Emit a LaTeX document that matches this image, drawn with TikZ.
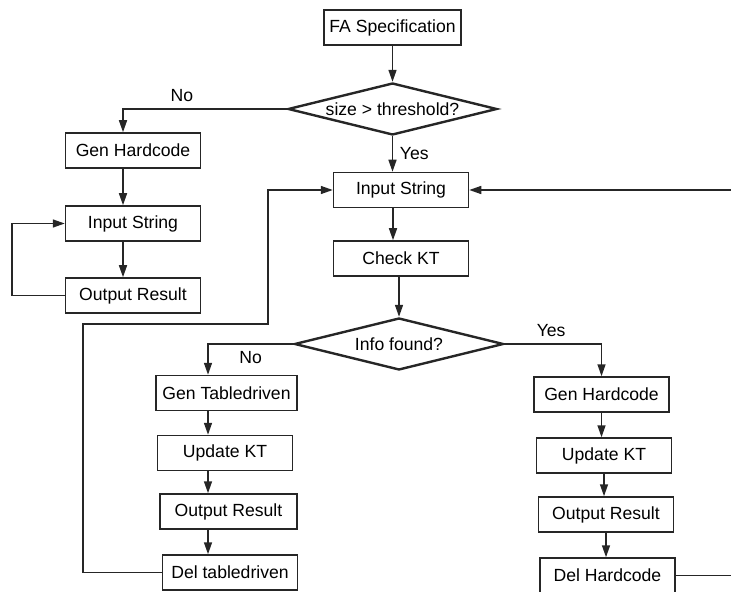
\documentclass[tikz,border=0pt]{standalone}
\usepackage{fontspec}
\setmainfont{Liberation Sans}
\usepackage{tikz}
\usetikzlibrary{arrows.meta, shapes.geometric}

\begin{document}
\begin{tikzpicture}[>={Triangle[length=6pt, width=4pt]}, x=0.5pt, y=-0.5pt,
    font=\fontsize{8.8}{10.5}\selectfont,
    box/.style={draw=black!85, line width=0.75pt, minimum width=67.5pt, minimum height=17.5pt, inner sep=0pt},
    test/.style={draw=black!85, line width=1.2pt, diamond, aspect=4, minimum width=104.5pt, minimum height=26pt, inner sep=0pt},
    flow/.style={draw=black!85, line width=0.75pt}]
    \path [use as bounding box, clip] (0, 0) rectangle (731, 592);
    % main column
    \node [box, minimum width=68.5pt] (spec) at (392.5, 27.5) {FA Specification};
    \node [test] (size) at (392.5, 109) {size > threshold?};
    \node [box] (input) at (401, 190) {Input String};
    \node [box] (check) at (401, 258.5) {Check KT};
    \node [test] (found) at (399, 344) {Info found?};
    % left column
    \node [box] (hard) at (133, 150.5) {Gen Hardcode};
    \node [box] (inputL) at (133, 223.5) {Input String};
    \node [box] (outL) at (133, 295.5) {Output Result};
    % table driven
    \node [box, minimum width=70.5pt] (table) at (226.5, 393) {Gen Tabledriven};
    \node [box] (updT) at (225, 453) {Update KT};
    \node [box, minimum width=68.5pt] (outT) at (228.5, 511.5) {Output Result};
    \node [box] (delT) at (230, 572.5) {Del tabledriven};
    % hardcode
    \node [box] (hardR) at (601.5, 394.5) {Gen Hardcode};
    \node [box] (updR) at (604, 455.5) {Update KT};
    \node [box] (outR) at (606, 514.5) {Output Result};
    \node [box] (delR) at (607.5, 575.5) {Del Hardcode};

    \coordinate (colT) at (208, 0);
    \coordinate (backL) at (83, 324);
    \coordinate (backR) at (268, 324);
    \coordinate (exitR) at (740, 580);
    \coordinate (backIn) at (740, 190);

    \draw [flow, ->] (spec) -- (size);
    \draw [flow, ->] (size.south) -- node [right] (yes1) {Yes} (size.south |- input.north);
    \draw [flow, ->] (size.west) -| node [above, pos=0.32] (no1) {No} ([xshift=-5pt] hard.north);
    \draw [flow, ->] ([xshift=-5pt] hard.south) -- ([xshift=-5pt] inputL.north);
    \draw [flow, ->] ([xshift=-5pt] inputL.south) -- ([xshift=-5pt] outL.north);
    \draw [flow, ->] (outL.west) -- ++(-53, 0) |- (inputL.west);
    \draw [flow, ->] ([xshift=-4pt] input.south) -- ([xshift=-4pt] check.north);
    \draw [flow, ->] (check.south -| found.north) -- (found.north);
    \draw [flow, ->] (delT.west) -| (backL) -- (backR) |- (input.west);
    \draw [flow, ->] (found.west) -| node [below, pos=0.25] (no2) {No} (table.north -| colT);
    \draw [flow, ->] (table.south -| colT) -- (updT.north -| colT);
    \draw [flow, ->] (updT.south -| colT) -- (outT.north -| colT);
    \draw [flow, ->] (outT.south -| colT) -- (delT.north -| colT);
    \draw [flow, ->] (found.east) -| node [above, pos=0.24] (yes2) {Yes} (hardR.north);
    \draw [flow, ->] (hardR.south) -- (hardR.south |- updR.north);
    \draw [flow, ->] (updR.south) -- (updR.south |- outR.north);
    \draw [flow, ->] (outR.south) -- (outR.south |- delR.north);
    \draw [flow] (delR.east) -- (delR.east -| exitR);
    \draw [flow, ->] (backIn) -- (input.east);
\end{tikzpicture}
\end{document}
